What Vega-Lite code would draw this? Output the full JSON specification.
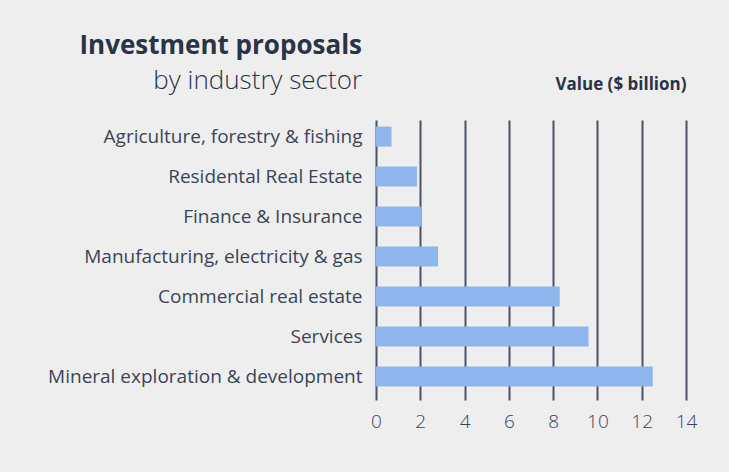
{
  "$schema": "https://vega.github.io/schema/vega-lite/v6.json",
  "width": 310,
  "height": 280,
  "autosize": {"type": "none"},
  "padding": {"left": 376, "top": 120, "right": 43, "bottom": 72},
  "background": "#eeeeee",
  "config": {
    "view": {"stroke": null},
    "font": "Open Sans"
  },
  "title": {
    "text": "Investment proposals",
    "subtitle": "by industry sector",
    "anchor": "start",
    "frame": "group",
    "align": "right",
    "dx": -14,
    "dy": 23,
    "fontSize": 26,
    "fontWeight": "bold",
    "color": "#2b3447",
    "subtitleFontSize": 26,
    "subtitleColor": "#2b3447",
    "subtitleFontWeight": 300,
    "subtitlePadding": 9,
    "offset": 4
  },
  "data": {
    "values": [
      {"sector": "Agriculture, forestry & fishing", "value": 0.7},
      {"sector": "Residental Real Estate", "value": 1.85},
      {"sector": "Finance & Insurance", "value": 2.05},
      {"sector": "Manufacturing, electricity & gas", "value": 2.8},
      {"sector": "Commercial real estate", "value": 8.3},
      {"sector": "Services", "value": 9.6},
      {"sector": "Mineral exploration & development", "value": 12.5}
    ]
  },
  "resolve": {"axis": {"x": "independent"}},
  "layer": [
    {
      "mark": {"type": "bar", "color": "#8fb5ee"},
      "encoding": {
        "y": {
          "field": "sector",
          "type": "nominal",
          "sort": null,
          "scale": {"paddingInner": 0.5, "paddingOuter": 0.25, "align": 0.33},
          "axis": {
            "title": null,
            "domain": false,
            "ticks": false,
            "labelPadding": 14,
            "labelFontSize": 19,
            "labelColor": "#3a4558",
            "labelLimit": 400
          }
        },
        "x": {
          "field": "value",
          "type": "quantitative",
          "scale": {"domain": [0, 14]},
          "axis": {
            "title": null,
            "orient": "bottom",
            "values": [0, 2, 4, 6, 8, 10, 12, 14],
            "grid": true,
            "gridColor": "#4b5263",
            "gridWidth": 2,
            "gridOpacity": 1,
            "domain": false,
            "ticks": false,
            "labelPadding": 12,
            "labelFontSize": 19,
            "labelFontWeight": 300,
            "labelColor": "#3a4558",
            "labelFlush": false
          }
        }
      }
    },
    {
      "mark": {"type": "bar", "opacity": 0},
      "encoding": {
        "y": {"field": "sector", "type": "nominal", "sort": null},
        "x": {
          "field": "value",
          "type": "quantitative",
          "scale": {"domain": [0, 14]},
          "axis": {
            "orient": "top",
            "title": "Value ($ billion)",
            "titleAnchor": "end",
            "titleFontSize": 17,
            "titleFontWeight": "bold",
            "titleColor": "#2b3447",
            "titlePadding": 27,
            "labels": false,
            "ticks": false,
            "domain": false,
            "grid": false
          }
        }
      }
    }
  ]
}
